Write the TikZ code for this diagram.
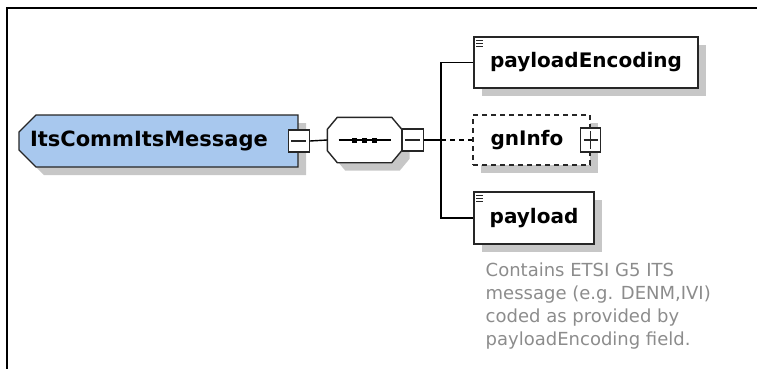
\documentclass[tikz,border=0pt]{standalone}
\usepackage{fontspec}
\setmainfont{DejaVu Sans}
\usetikzlibrary{positioning}
\usetikzlibrary{shapes.misc}
\usetikzlibrary{shadows}
\definecolor{msgblue}{RGB}{168,200,238}
\definecolor{docgray}{RGB}{140,140,140}

\begin{document}
\begin{tikzpicture}[x=1pt,y=-1pt,line width=1.4pt]
\tikzset{shade/.style={drop shadow={shadow xshift=8pt,shadow yshift=-8pt,fill=black!22,opacity=1}}}
\tikzset{element/.style={rectangle,draw=black!85,fill=white,inner sep=0pt,font=\bfseries\fontsize{20}{24}\selectfont,shade}}
\tikzset{leaf/.style={element,path picture={
  \foreach \k in {0,1,2}
    \draw[line width=0.9pt] ([xshift=2pt,yshift={-3-3.2*\k}]path picture bounding box.north west) -- ++(7,0);}}}
\tikzset{compositor/.style={rectangle,minimum width=73pt,minimum height=44pt,inner sep=0pt}}
\tikzset{toggle/.style={rectangle,draw=black!85,fill=white,minimum width=21pt,minimum height=22pt,inner sep=0pt,
  path picture={\draw[line width=1.2pt] ([xshift=3pt]path picture bounding box.west) -- ([xshift=-3pt]path picture bounding box.east);}}}
\tikzset{expand/.style={toggle,minimum width=20pt,minimum height=24pt,
  path picture={\draw[line width=1.2pt] ([xshift=3pt]path picture bounding box.west) -- ([xshift=-3pt]path picture bounding box.east);
    \draw[line width=1.2pt] ([yshift=-3pt]path picture bounding box.north) -- ([yshift=3pt]path picture bounding box.south);}}}
\useasboundingbox (0,0) rectangle (757,369);
% frame
\draw[line width=2.2pt] (7,369) -- (7,8) -- (757,8);
% root element and its sequence
\node[element,chamfered rectangle,chamfered rectangle corners={north west,south west},chamfered rectangle xsep=9pt,chamfered rectangle ysep=8pt,
  fill=msgblue,minimum width=279pt,minimum height=52pt,font=\bfseries\fontsize{21}{24}\selectfont] (msg) at (158.5,141) {ItsCommItsMessage\hspace*{19pt}};
\node[toggle] (msgtoggle) at (msg.east) {};
\node[compositor] (seq) at (364.5,140) {};
\path[draw=black!85,fill=white,shade]
  ([xshift=10pt]seq.north west) -- ([xshift=-10pt]seq.north east) -- ([yshift=-12pt]seq.north east)
  -- ([yshift=12pt]seq.south east) -- ([xshift=-10pt]seq.south east) -- ([xshift=10pt]seq.south west)
  -- ([yshift=12pt]seq.south west) -- ([yshift=-12pt]seq.north west) -- cycle;
\draw[line width=1.2pt] ([xshift=-26pt]seq.center) -- ([xshift=26pt]seq.center);
\foreach \d in {-10,0,10}
  \fill ([xshift=\d pt]seq.center) +(-2.5,-2.5) rectangle +(2.5,2.5);
\node[toggle,anchor=west] (seqtoggle) at (seq.east) {};
% children
\node[leaf,minimum width=224pt,minimum height=51pt] (enc) at (586,62.5) {payloadEncoding};
\node[element,dash pattern=on 5pt off 4pt,minimum width=117pt,minimum height=50pt] (gn) at (531.5,140) {gnInfo\hspace*{9pt}};
\node[expand] (gntoggle) at (gn.east) {};
\node[leaf,minimum width=120pt,minimum height=52pt] (pay) at (534,218) {payload};
\coordinate (fork) at (441,140);
\draw (msgtoggle.east) -- (seq.west);
\draw (seqtoggle.east) -- (fork);
\draw (enc.west) -| (fork) |- (pay.west);
\draw[dash pattern=on 5pt off 4pt] (fork) -- (gn.west);
% annotation
\node[anchor=north west,inner sep=0pt,align=left,text=docgray,font=\fontsize{18}{23}\selectfont] (paydoc) at (485,262)
  {Contains ETSI G5 ITS\\message (e.g. DENM,IVI)\\coded as provided by\\payloadEncoding field.};
\end{tikzpicture}
\end{document}
